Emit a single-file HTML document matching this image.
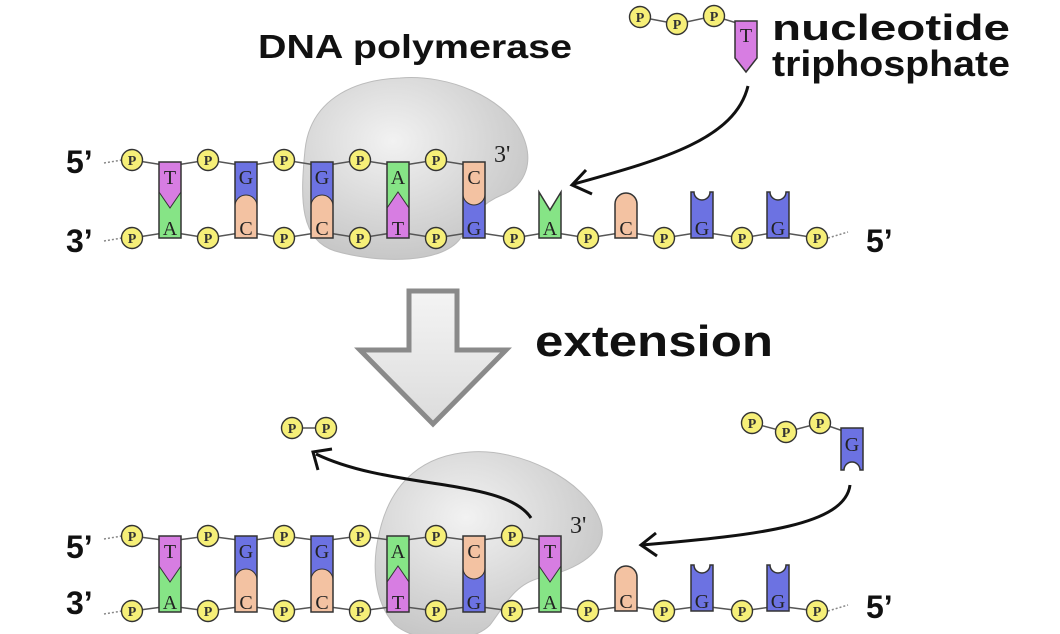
<!DOCTYPE html>
<html><head><meta charset="utf-8"><style>
html,body{margin:0;padding:0;background:#fff;}
svg{display:block;}
.lbl{font-family:"Liberation Sans",sans-serif;font-weight:bold;fill:#111;}
.b{font-family:"Liberation Serif",serif;font-size:20px;fill:#222;text-anchor:middle;}
.p{font-family:"Liberation Serif",serif;font-size:14px;font-weight:bold;fill:#333;text-anchor:middle;}
</style></head><body>
<svg width="1060" height="634" viewBox="0 0 1060 634" xmlns="http://www.w3.org/2000/svg">
<defs>
<radialGradient id="blob" cx="0.4" cy="0.35" r="0.7">
<stop offset="0" stop-color="#f2f2f2"/><stop offset="1" stop-color="#c4c4c4"/></radialGradient>
<linearGradient id="arr" x1="0" y1="0" x2="0" y2="1">
<stop offset="0" stop-color="#f4f4f4"/><stop offset="1" stop-color="#dcdcdc"/></linearGradient>
<g id="TA"><rect width="22" height="76" fill="#86e486"/><polygon points="0,0 22,0 22,30 11,46 0,30" fill="#d77de2" stroke="#333" stroke-width="1"/><rect width="22" height="76" fill="none" stroke="#333" stroke-width="1.5"/></g>
<g id="AT"><rect width="22" height="76" fill="#d77de2"/><polygon points="0,0 22,0 22,46 11,30 0,46" fill="#86e486" stroke="#333" stroke-width="1"/><rect width="22" height="76" fill="none" stroke="#333" stroke-width="1.5"/></g>
<g id="GC"><rect width="22" height="76" fill="#6c72e2"/><path d="M0,76 V44 A11 11 0 0 1 22 44 V76 Z" fill="#f3c2a2" stroke="#333" stroke-width="1"/><rect width="22" height="76" fill="none" stroke="#333" stroke-width="1.5"/></g>
<g id="CG"><rect width="22" height="76" fill="#6c72e2"/><path d="M0,0 V32 A11 11 0 0 0 22 32 V0 Z" fill="#f3c2a2" stroke="#333" stroke-width="1"/><rect width="22" height="76" fill="none" stroke="#333" stroke-width="1.5"/></g>
<path id="sA" d="M0,46 H22 V0 L11,18 L0,0 Z" fill="#86e486" stroke="#333" stroke-width="1.5"/>
<path id="sC" d="M0,46 V12 A11 11 0 0 1 22 12 V46 Z" fill="#f3c2a2" stroke="#333" stroke-width="1.5"/>
<path id="sG" d="M0,46 V0 H3 A8 8 0 0 0 19 0 H22 V46 Z" fill="#6c72e2" stroke="#333" stroke-width="1.5"/>
<circle id="P" r="10.5" fill="#f6ef78" stroke="#333" stroke-width="1.4"/>
</defs>

<!-- ===== TOP DIAGRAM ===== -->
<path d="M400,78 C450,74 502,98 520,130 C536,160 526,186 502,195 C482,203 472,216 462,236 C446,264 380,264 335,251 C300,240 300,200 305,150 C310,102 350,80 400,78 Z" fill="url(#blob)" stroke="#bbb" stroke-width="1"/>
<text x="494" y="162" font-family="Liberation Serif,serif" font-size="24" fill="#222">3'</text>

<text class="lbl" x="258" y="58" font-size="33" textLength="314" lengthAdjust="spacingAndGlyphs">DNA polymerase</text>
<text class="lbl" x="772" y="40" font-size="36" textLength="238" lengthAdjust="spacingAndGlyphs">nucleotide</text>
<text class="lbl" x="772" y="76" font-size="36" textLength="238" lengthAdjust="spacingAndGlyphs">triphosphate</text>
<text class="lbl" x="66" y="173" font-size="32">5’</text>
<text class="lbl" x="66" y="252" font-size="32">3’</text>
<text class="lbl" x="866" y="252" font-size="32">5’</text>

<line x1="104" y1="163" x2="122" y2="160" stroke="#888" stroke-width="1.5" stroke-dasharray="2,2"/>
<line x1="104" y1="241" x2="122" y2="238" stroke="#888" stroke-width="1.5" stroke-dasharray="2,2"/>
<line x1="828" y1="238" x2="848" y2="232" stroke="#888" stroke-width="1.5" stroke-dasharray="2,2"/>
<polyline points="132,160 170,166 208,160 246,166 284,160 322,166 360,160 398,166 436,160 474,166" fill="none" stroke="#555" stroke-width="1.5"/>
<polyline points="132,238 170,232 208,238 246,232 284,238 322,232 360,238 398,232 436,238 474,232 514,238 550,232 588,238 626,232 664,238 702,232 742,238 778,232 817,238" fill="none" stroke="#555" stroke-width="1.5"/>

<use href="#TA" x="159" y="162"/><use href="#GC" x="235" y="162"/><use href="#GC" x="311" y="162"/><use href="#AT" x="387" y="162"/><use href="#CG" x="463" y="162"/>
<use href="#sA" x="539" y="192"/><use href="#sC" x="615" y="192"/><use href="#sG" x="691" y="192"/><use href="#sG" x="767" y="192"/>
<text class="b" x="170" y="184">T</text><text class="b" x="170" y="235">A</text>
<text class="b" x="246" y="184">G</text><text class="b" x="246" y="235">C</text>
<text class="b" x="322" y="184">G</text><text class="b" x="322" y="235">C</text>
<text class="b" x="398" y="184">A</text><text class="b" x="398" y="235">T</text>
<text class="b" x="474" y="184">C</text><text class="b" x="474" y="235">G</text>
<text class="b" x="550" y="235">A</text><text class="b" x="626" y="235">C</text><text class="b" x="702" y="235">G</text><text class="b" x="778" y="235">G</text>

<use href="#P" x="132" y="160"/><use href="#P" x="208" y="160"/><use href="#P" x="284" y="160"/><use href="#P" x="360" y="160"/><use href="#P" x="436" y="160"/>
<use href="#P" x="132" y="238"/><use href="#P" x="208" y="238"/><use href="#P" x="284" y="238"/><use href="#P" x="360" y="238"/><use href="#P" x="436" y="238"/><use href="#P" x="514" y="238"/><use href="#P" x="588" y="238"/><use href="#P" x="664" y="238"/><use href="#P" x="742" y="238"/><use href="#P" x="817" y="238"/>
<text class="p" x="132" y="165">P</text><text class="p" x="208" y="165">P</text><text class="p" x="284" y="165">P</text><text class="p" x="360" y="165">P</text><text class="p" x="436" y="165">P</text>
<text class="p" x="132" y="243">P</text><text class="p" x="208" y="243">P</text><text class="p" x="284" y="243">P</text><text class="p" x="360" y="243">P</text><text class="p" x="436" y="243">P</text><text class="p" x="514" y="243">P</text><text class="p" x="588" y="243">P</text><text class="p" x="664" y="243">P</text><text class="p" x="742" y="243">P</text><text class="p" x="817" y="243">P</text>

<!-- incoming T triphosphate -->
<polyline points="640,17 677,24 714,16 740,24" fill="none" stroke="#555" stroke-width="1.5"/>
<use href="#P" x="640" y="17"/><use href="#P" x="677" y="24"/><use href="#P" x="714" y="16"/>
<text class="p" x="640" y="22">P</text><text class="p" x="677" y="29">P</text><text class="p" x="714" y="21">P</text>
<path d="M735,21 H757 V58 L746,72 L735,58 Z" fill="#d77de2" stroke="#333" stroke-width="1.5"/>
<text class="b" x="746" y="42">T</text>
<path d="M748,86 C735,140 660,160 574,184" fill="none" stroke="#111" stroke-width="3"/>
<path d="M586,170 L572,185 L592,194" fill="none" stroke="#111" stroke-width="3"/>

<!-- big arrow -->
<path d="M409,291 H457 V350 H506 L433,424 L360,350 H409 Z" fill="url(#arr)" stroke="#8a8a8a" stroke-width="5" stroke-linejoin="miter"/>
<text class="lbl" x="535" y="356" font-size="44" textLength="238" lengthAdjust="spacingAndGlyphs">extension</text>

<!-- ===== BOTTOM DIAGRAM ===== -->
<path d="M470,452 C520,448 585,480 600,520 C612,552 575,570 540,578 C515,584 505,605 490,625 C470,645 420,645 395,625 C372,600 372,560 380,530 C392,480 425,455 470,452 Z" fill="url(#blob)" stroke="#bbb" stroke-width="1"/>
<text x="570" y="533" font-family="Liberation Serif,serif" font-size="24" fill="#222">3'</text>

<text class="lbl" x="66" y="558" font-size="32">5’</text>
<text class="lbl" x="66" y="614" font-size="32">3’</text>
<text class="lbl" x="866" y="618" font-size="32">5’</text>
<line x1="104" y1="539" x2="122" y2="536" stroke="#888" stroke-width="1.5" stroke-dasharray="2,2"/>
<line x1="104" y1="614" x2="122" y2="611" stroke="#888" stroke-width="1.5" stroke-dasharray="2,2"/>
<line x1="828" y1="611" x2="848" y2="605" stroke="#888" stroke-width="1.5" stroke-dasharray="2,2"/>

<polyline points="132,536 170,541 208,536 246,541 284,536 322,541 360,536 398,541 436,536 474,541 512,536 550,541" fill="none" stroke="#555" stroke-width="1.5"/>
<polyline points="132,611 170,606 208,611 246,606 284,611 322,606 360,611 398,606 436,611 474,606 512,611 550,606 588,611 626,606 664,611 702,606 742,611 778,606 817,611" fill="none" stroke="#555" stroke-width="1.5"/>

<use href="#TA" x="159" y="536"/><use href="#GC" x="235" y="536"/><use href="#GC" x="311" y="536"/><use href="#AT" x="387" y="536"/><use href="#CG" x="463" y="536"/><use href="#TA" x="539" y="536"/>
<use href="#sC" x="615" y="565"/><use href="#sG" x="691" y="565"/><use href="#sG" x="767" y="565"/>
<text class="b" x="170" y="558">T</text><text class="b" x="170" y="609">A</text>
<text class="b" x="246" y="558">G</text><text class="b" x="246" y="609">C</text>
<text class="b" x="322" y="558">G</text><text class="b" x="322" y="609">C</text>
<text class="b" x="398" y="558">A</text><text class="b" x="398" y="609">T</text>
<text class="b" x="474" y="558">C</text><text class="b" x="474" y="609">G</text>
<text class="b" x="550" y="558">T</text><text class="b" x="550" y="609">A</text>
<text class="b" x="626" y="608">C</text><text class="b" x="702" y="608">G</text><text class="b" x="778" y="608">G</text>

<use href="#P" x="132" y="536"/><use href="#P" x="208" y="536"/><use href="#P" x="284" y="536"/><use href="#P" x="360" y="536"/><use href="#P" x="436" y="536"/><use href="#P" x="512" y="536"/>
<use href="#P" x="132" y="611"/><use href="#P" x="208" y="611"/><use href="#P" x="284" y="611"/><use href="#P" x="360" y="611"/><use href="#P" x="436" y="611"/><use href="#P" x="512" y="611"/><use href="#P" x="588" y="611"/><use href="#P" x="664" y="611"/><use href="#P" x="742" y="611"/><use href="#P" x="817" y="611"/>
<text class="p" x="132" y="541">P</text><text class="p" x="208" y="541">P</text><text class="p" x="284" y="541">P</text><text class="p" x="360" y="541">P</text><text class="p" x="436" y="541">P</text><text class="p" x="512" y="541">P</text>
<text class="p" x="132" y="616">P</text><text class="p" x="208" y="616">P</text><text class="p" x="284" y="616">P</text><text class="p" x="360" y="616">P</text><text class="p" x="436" y="616">P</text><text class="p" x="512" y="616">P</text><text class="p" x="588" y="616">P</text><text class="p" x="664" y="616">P</text><text class="p" x="742" y="616">P</text><text class="p" x="817" y="616">P</text>

<!-- released PP -->
<line x1="292" y1="428" x2="326" y2="428" stroke="#555" stroke-width="1.5"/>
<use href="#P" x="292" y="428"/><use href="#P" x="326" y="428"/>
<text class="p" x="292" y="433">P</text><text class="p" x="326" y="433">P</text>
<path d="M531,518 C505,478 390,490 316,454" fill="none" stroke="#111" stroke-width="3"/>
<path d="M318,470 L313,452 L332,449" fill="none" stroke="#111" stroke-width="3"/>

<!-- incoming G triphosphate -->
<polyline points="752,423 786,432 820,423 846,432" fill="none" stroke="#555" stroke-width="1.5"/>
<use href="#P" x="752" y="423"/><use href="#P" x="786" y="432"/><use href="#P" x="820" y="423"/>
<text class="p" x="752" y="428">P</text><text class="p" x="786" y="437">P</text><text class="p" x="820" y="428">P</text>
<path d="M841,428 H863 V470 H860 A8 8 0 0 0 844 470 H841 Z" fill="#6c72e2" stroke="#333" stroke-width="1.5"/>
<text class="b" x="852" y="451" font-size="17">G</text>
<path d="M850,485 C845,525 760,535 642,545" fill="none" stroke="#111" stroke-width="3"/>
<path d="M656,533 L641,545 L657,556" fill="none" stroke="#111" stroke-width="3"/>
</svg>
</body></html>
